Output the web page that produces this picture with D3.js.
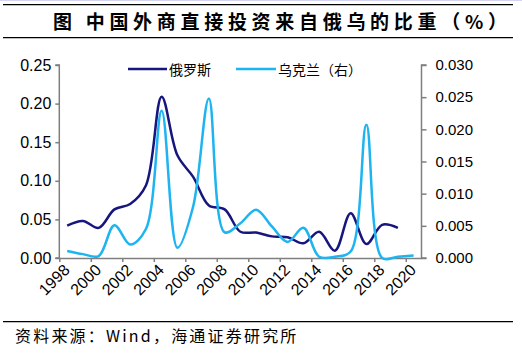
<!DOCTYPE html>
<html>
<head>
<meta charset="utf-8">
<script src="https://cdn.jsdelivr.net/npm/d3@7"></script>
<style>
  body { margin: 0; background: #fff; }
  svg { display: block; }
</style>
</head>
<body>
<div id="chart"></div>
<script>
// data
const years = d3.range(1998, 2021);
const russia = [0.042, 0.048, 0.039, 0.063, 0.070, 0.094, 0.209, 0.133, 0.105, 0.068,
  0.063, 0.034, 0.033, 0.028, 0.027, 0.019, 0.034, 0.0095, 0.058, 0.018, 0.043, 0.039];
const ukraine = [0.0011, 0.0006, 0.0003, 0.0051, 0.0021, 0.0045, 0.0229, 0.0016, 0.0080, 0.0248,
  0.0040, 0.0054, 0.0075, 0.0049, 0.0025, 0.0047, 0.0002, 0.0002, 0.0010, 0.0207,
  0.0000, 0.0002, 0.0004];
const leftTicks = [0, 0.05, 0.1, 0.15, 0.2, 0.25];
const rightTicks = [0, 0.005, 0.01, 0.015, 0.02, 0.025, 0.03];
const xLabels = years.filter((d) => d % 2 === 0);

const W = 522, H = 354;
const cjk = "'Noto Sans CJK SC', sans-serif";
const latin = "'Liberation Sans', Arial, sans-serif";

const svg = d3
  .select("#chart")
  .append("svg")
  .attr("width", W)
  .attr("height", H);

// frame lines and title
svg.append("line").attr("x1", 0).attr("x2", W).attr("y1", 0.5).attr("y2", 0.5)
  .attr("stroke", "#d4d4f0").attr("stroke-width", 1);
[4.7, 37.7, 321.7].forEach((y) => {
  svg.append("line").attr("x1", 3).attr("x2", 513).attr("y1", y).attr("y2", y)
    .attr("stroke", "#000").attr("stroke-width", 1.3);
});
svg.append("text")
  .attr("x", 53).attr("y", 29)
  .style("font-family", cjk).style("font-size", "19px").style("font-weight", "bold")
  .style("letter-spacing", "4.7px")
  .text("图  中国外商直接投资来自俄乌的比重（%）");
svg.append("text")
  .attr("x", 15).attr("y", 342)
  .style("font-family", cjk).style("font-size", "16px")
  .style("letter-spacing", "2.2px")
  .text("资料来源：Wind，海通证券研究所");

// scales
const plotL = 59.3, plotR = 421.5, plotT = 65, plotB = 258;
const x = d3.scaleLinear().domain([1998, 2021]).range([plotL, plotR]);
const yL = d3.scaleLinear().domain([0, 0.25]).range([plotB, plotT]);
const yR = d3.scaleLinear().domain([0, 0.03]).range([plotB, plotT]);
const half = (x(1999) - x(1998)) / 2;

const axisColor = "#7f7f7f";

// left axis
const gL = svg.append("g").attr("transform", `translate(${plotL},0)`)
  .call(d3.axisLeft(yL).tickValues(leftTicks).tickFormat(d3.format(".2f")).tickSize(4).tickPadding(4));
// right axis
const gR = svg.append("g").attr("transform", `translate(${plotR},0)`)
  .call(d3.axisRight(yR).tickValues(rightTicks).tickFormat(d3.format(".3f")).tickSize(5).tickPadding(9));
// bottom axis: ticks between categories, labels at category centres
const gB = svg.append("g").attr("transform", `translate(0,${plotB})`)
  .call(d3.axisBottom(x).tickValues(xLabels).tickFormat(d3.format("d")).tickSize(4).tickSizeOuter(0));

[gL, gR, gB].forEach((g) => {
  g.select(".domain").attr("stroke", axisColor).attr("stroke-width", 1.5);
  g.selectAll(".tick line").attr("stroke", axisColor).attr("stroke-width", 1.5);
  g.selectAll(".tick text").attr("fill", "#000")
    .style("font-family", latin).style("font-size", "15px");
});
gL.selectAll(".tick text").style("font-size", "16px");
gB.selectAll(".tick text")
  .attr("y", null).attr("dy", null)
  .attr("text-anchor", "end")
  .style("font-size", "16px")
  .attr("transform", `translate(${half + 3},${13}) rotate(-45)`);
gL.select(".domain").attr("d", `M-4,${plotT}H0V${plotB}H-4`);
gR.select(".domain").attr("d", `M5,${plotT}H0V${plotB}H5`);

// lines
const lineL = d3.line()
  .x((d, i) => x(years[i]) + half)
  .y((d) => yL(d))
  .curve(d3.curveCatmullRom.alpha(0.5));
const lineR = d3.line()
  .x((d, i) => x(years[i]) + half)
  .y((d) => yR(d))
  .curve(d3.curveCatmullRom.alpha(0.5));

svg.append("path").datum(russia)
  .attr("d", lineL).attr("fill", "none")
  .attr("stroke", "#16167e").attr("stroke-width", 2.5);
svg.append("path").datum(ukraine)
  .attr("d", lineR).attr("fill", "none")
  .attr("stroke", "#1eb4f0").attr("stroke-width", 2.5);

// legend
const legend = [
  { name: "俄罗斯", color: "#16167e", x0: 128, x1: 167 },
  { name: "乌克兰（右）", color: "#1eb4f0", x0: 236, x1: 276 },
];
legend.forEach((d) => {
  svg.append("line").attr("x1", d.x0).attr("x2", d.x1).attr("y1", 69).attr("y2", 69)
    .attr("stroke", d.color).attr("stroke-width", 2.5);
  svg.append("text").attr("x", d.x1 + 2).attr("y", 74.5)
    .style("font-family", cjk).style("font-size", "14px")
    .text(d.name);
});
</script>
</body>
</html>
